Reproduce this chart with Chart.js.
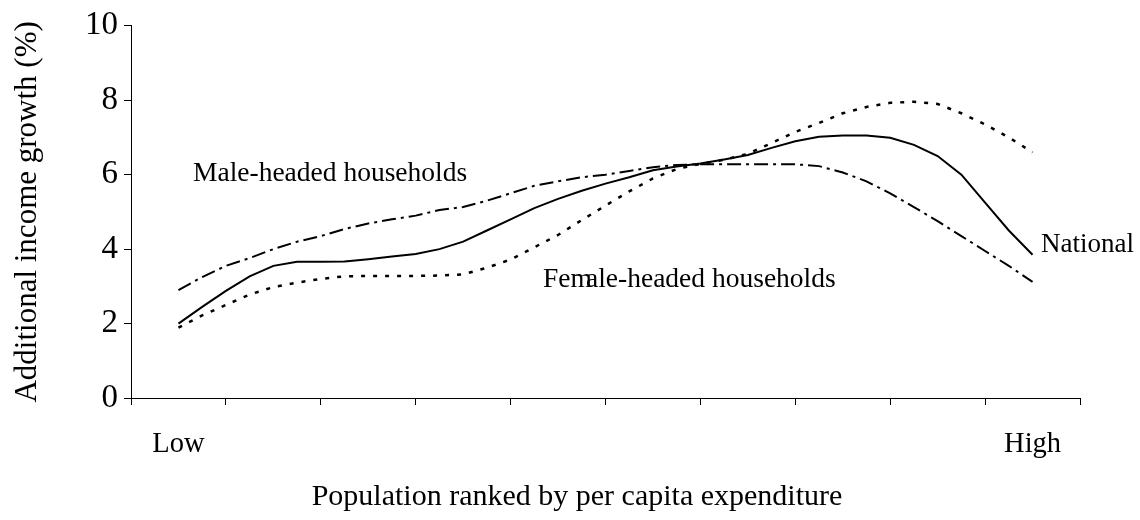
<!DOCTYPE html>
<html>
<head>
<meta charset="utf-8">
<script src="https://cdn.jsdelivr.net/npm/chart.js@4"></script>
<style>
html, body { margin: 0; padding: 0; background: #fff; }
</style>
</head>
<body>
<canvas id="chart" width="1140" height="520"></canvas>
<script>
// position along the population ranking (axis runs 0..10, ticks every 1)
var rankPos = [0.5, 0.75, 1.0, 1.25, 1.5, 1.75, 2.0, 2.25, 2.5, 2.75,
               3.0, 3.25, 3.5, 3.75, 4.0, 4.25, 4.5, 4.75, 5.0, 5.25,
               5.5, 5.75, 6.0, 6.25, 6.5, 6.75, 7.0, 7.25, 7.5, 7.75,
               8.0, 8.25, 8.5, 8.75, 9.0, 9.25, 9.5];

var national = [2.0, 2.45, 2.88, 3.27, 3.55, 3.66, 3.66, 3.67, 3.73, 3.8,
                3.87, 4.0, 4.2, 4.5, 4.8, 5.1, 5.35, 5.57, 5.76, 5.93,
                6.12, 6.22, 6.3, 6.41, 6.53, 6.72, 6.9, 7.02, 7.05, 7.05,
                6.99, 6.8, 6.5, 6.0, 5.25, 4.5, 3.85];

var femaleHeaded = [1.89, 2.22, 2.5, 2.78, 2.98, 3.1, 3.2, 3.27, 3.28, 3.28,
                    3.28, 3.29, 3.32, 3.5, 3.72, 4.05, 4.38, 4.78, 5.17, 5.55,
                    5.9, 6.15, 6.29, 6.4, 6.56, 6.85, 7.15, 7.39, 7.65, 7.82,
                    7.93, 7.96, 7.9, 7.65, 7.35, 7.0, 6.6];

var maleHeaded = [2.9, 3.25, 3.55, 3.76, 4.0, 4.2, 4.35, 4.54, 4.69, 4.8,
                  4.9, 5.05, 5.13, 5.3, 5.5, 5.7, 5.82, 5.93, 6.0, 6.1,
                  6.2, 6.26, 6.28, 6.28, 6.28, 6.28, 6.28, 6.23, 6.06, 5.82,
                  5.5, 5.13, 4.75, 4.35, 3.95, 3.55, 3.12];

var yTicks = [0, 2, 4, 6, 8, 10];

var FONT = '"Liberation Serif", "Times New Roman", serif';

function toPoints(vals) {
    return vals.map(function(v, i) { return { x: rankPos[i], y: v }; });
}

var textLabels = {
    id: 'textLabels',
    afterDraw: function(chart) {
        var ctx = chart.ctx;
        var xs = chart.scales.x;
        ctx.save();
        ctx.fillStyle = '#000';
        ctx.textBaseline = 'middle';
        ctx.textAlign = 'center';
        ctx.font = '28.5px ' + FONT;
        ctx.fillText('Low', xs.getPixelForValue(rankPos[0]), 445);
        ctx.fillText('High', xs.getPixelForValue(rankPos[rankPos.length - 1]), 445);
        ctx.font = '30px ' + FONT;
        ctx.fillText('Population ranked by per capita expenditure', 577, 497);

        ctx.textAlign = 'left';
        ctx.font = '27.5px ' + FONT;
        ctx.fillText('Male-headed households', 193, 174);
        // the female label has its "a" printed over the "m"
        ctx.fillText('Fem', 543, 280);
        ctx.fillText('ale-headed households', 586, 280);
        ctx.font = '27px ' + FONT;
        ctx.fillText('National', 1041, 245);
        ctx.restore();
    }
};

new Chart(document.getElementById('chart'), {
    type: 'line',
    data: {
        datasets: [
            {
                label: 'National',
                data: toPoints(national),
                borderColor: '#000',
                borderWidth: 2,
                pointRadius: 0,
                tension: 0
            },
            {
                label: 'Female-headed households',
                data: toPoints(femaleHeaded),
                borderColor: '#000',
                borderWidth: 2.5,
                borderDash: [4, 8],
                pointRadius: 0,
                tension: 0
            },
            {
                label: 'Male-headed households',
                data: toPoints(maleHeaded),
                borderColor: '#000',
                borderWidth: 2,
                borderDash: [14, 5, 3, 5],
                pointRadius: 0,
                tension: 0
            }
        ]
    },
    options: {
        responsive: false,
        animation: false,
        layout: { padding: { top: 20, right: 60, left: 0, bottom: 0 } },
        plugins: {
            legend: { display: false },
            tooltip: { enabled: false }
        },
        scales: {
            x: {
                type: 'linear',
                min: 0,
                max: 10,
                afterFit: function(scale) { scale.height = 122; },
                afterBuildTicks: function(scale) {
                    scale.ticks = [0, 1, 2, 3, 4, 5, 6, 7, 8, 9, 10].map(function(v) { return { value: v }; });
                },
                ticks: {
                    callback: function() { return ''; },
                    font: { family: FONT, size: 29 }
                },
                grid: {
                    drawOnChartArea: false,
                    drawTicks: true,
                    tickLength: 7,
                    color: '#000'
                },
                border: { color: '#000', width: 1 }
            },
            y: {
                min: 0,
                max: 10,
                afterFit: function(scale) { scale.width = 131; },
                afterBuildTicks: function(scale) {
                    scale.ticks = yTicks.map(function(v) { return { value: v }; });
                },
                ticks: {
                    color: '#000',
                    padding: 6,
                    font: { family: FONT, size: 33 }
                },
                grid: {
                    drawOnChartArea: false,
                    drawTicks: true,
                    tickLength: 7,
                    color: '#000'
                },
                border: { color: '#000', width: 1 },
                title: {
                    display: true,
                    text: 'Additional income growth (%)',
                    color: '#000',
                    padding: { top: 9, bottom: 0 },
                    font: { family: FONT, size: 31 }
                }
            }
        }
    },
    plugins: [textLabels]
});
</script>
</body>
</html>
